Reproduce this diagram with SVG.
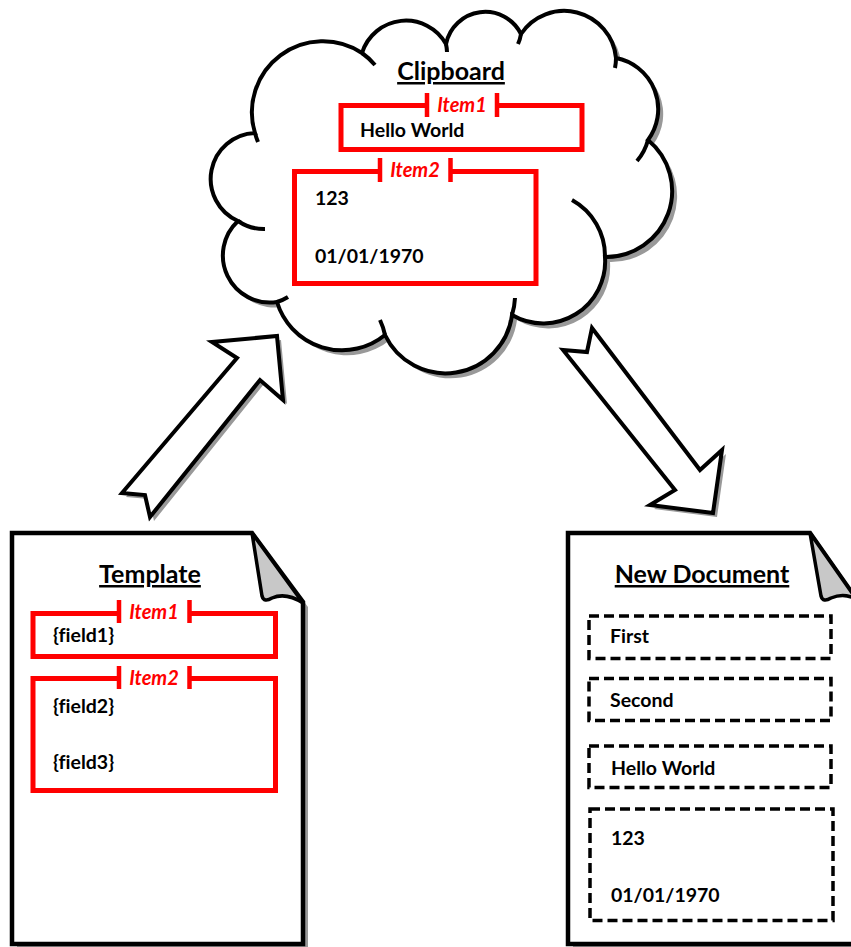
<svg xmlns="http://www.w3.org/2000/svg" width="851" height="947" viewBox="0 0 851 947">
<style>
text{font-family:Lato,"Open Sans","Liberation Sans",sans-serif;font-weight:bold;font-variant-ligatures:none;font-feature-settings:"liga" 0}
.title{font-size:25px;text-decoration:underline;fill:#000}
.body{font-size:19.5px;fill:#000}
.lbl{font-style:italic;font-size:20px;fill:#ff0000}
.shadow{fill:#999;stroke:none}
.outline{fill:#fff;stroke:#000;stroke-width:4.5;stroke-linejoin:miter}
.flap{fill:#c8c8c8;stroke:#000;stroke-width:3.5;stroke-linejoin:round}
.red{fill:none;stroke:#ff0000;stroke-width:5}
.tick{stroke:#ff0000;stroke-width:4.5}
.dash{fill:none;stroke:#000;stroke-width:3.5;stroke-dasharray:10 5}
.stub{fill:none;stroke:#000;stroke-width:4}
</style>
<defs>
<path id="cloudShape" d="M255,133 A71,71 0 0,1 362,53 A46,46 0 0,1 446,44 A40,40 0 0,1 521,34 A52,52 0 0,1 616,58 A52,52 0 0,1 648,140 A66,66 0 0,1 605,257 A62,62 0 0,1 512,315 A67,67 0 0,1 385,335 A68,68 0 0,1 277,302 A47,47 0 0,1 238,221 A46,46 0 0,1 255,133 Z"/>
</defs>

<g id="connectors">
  <polygon class="shadow" points="126,497 241,362 216,346 281,340 287,404 264,384 154,521 149,499"/>
  <polygon fill="#fff" stroke="#000" stroke-width="4" stroke-linejoin="miter" points="122,493 237,358 212,342 277,336 283,400 260,380 150,517 145,495"/>
  <polygon class="shadow" points="567,354 591,356 596,332 704,474 726,454 717,517 654,509 679,494"/>
  <polygon fill="#fff" stroke="#000" stroke-width="4" stroke-linejoin="miter" points="563,350 587,352 592,328 700,470 722,450 713,513 650,505 675,490"/>
</g>

<g id="clipboard">
  <use href="#cloudShape" class="shadow" transform="translate(5,5)"/>
  <use href="#cloudShape" fill="#fff" stroke="#000" stroke-width="4"/>
  <path class="stub" d="M362,53 A71,71 0 0,1 375,65"/>
  <path class="stub" d="M446,44 A46,46 0 0,1 447,52"/>
  <path class="stub" d="M521,34 A40,40 0 0,1 518,44"/>
  <path class="stub" d="M616,58 A52,52 0 0,1 615,68"/>
  <path class="stub" d="M648,140 A52,52 0 0,1 637,161"/>
  <path class="stub" d="M572,200 A64,64 0 0,1 605,257"/>
  <path class="stub" d="M515,298 A67,67 0 0,1 512,315"/>
  <path class="stub" d="M380,320 A68,68 0 0,1 385,335"/>
  <path class="stub" d="M288,297 A47,47 0 0,1 277,302"/>
  <path class="stub" d="M265,229 A46,46 0 0,1 238,221"/>
  <path class="stub" d="M258,142 A71,71 0 0,1 255,133"/>
  <text class="title" x="451" y="80" text-anchor="middle">Clipboard</text>
  <g id="clip-item1">
    <path class="red" d="M427,105.5 H341 V149.5 H582 V105.5 H497"/>
    <path class="tick" d="M427,93 V117 M497,93 V117"/>
    <text class="lbl" x="462" y="112" text-anchor="middle">Item1</text>
    <text class="body" x="360" y="137">Hello World</text>
  </g>
  <g id="clip-item2">
    <path class="red" d="M380,171.5 H294.5 V283.5 H536 V171.5 H450.5"/>
    <path class="tick" d="M380,158 V182 M450.5,158 V182"/>
    <text class="lbl" x="415" y="177" text-anchor="middle">Item2</text>
    <text class="body" x="315" y="205">123</text>
    <text class="body" x="315" y="263">01/01/1970</text>
  </g>
</g>

<g id="template">
  <path class="shadow" d="M17,538 L257,538 L308,607 L308,952 L17,952 Z"/>
  <path class="outline" d="M12,533 L252,533 L303,602 L303,944 L12,944 Z"/>
  <path class="flap" d="M252,533 L262,596 Q264,603 272,598 Q286,592 303,603 Z"/>
  <text class="title" x="150" y="583" text-anchor="middle">Template</text>
  <g id="tpl-item1">
    <path class="red" d="M119,613.5 H33 V656.5 H275.5 V613.5 H189.5"/>
    <path class="tick" d="M119,600 V623 M189.5,600 V623"/>
    <text class="lbl" x="154" y="619" text-anchor="middle">Item1</text>
    <text class="body" x="53" y="642">{field1}</text>
  </g>
  <g id="tpl-item2">
    <path class="red" d="M119,678.5 H33 V790.5 H275.5 V678.5 H189.5"/>
    <path class="tick" d="M119,666 V689 M189.5,666 V689"/>
    <text class="lbl" x="154" y="685" text-anchor="middle">Item2</text>
    <text class="body" x="53" y="713">{field2}</text>
    <text class="body" x="53" y="769">{field3}</text>
  </g>
</g>

<g id="new-document">
  <path class="shadow" d="M573,538 L815,538 L862,605 L862,952 L573,952 Z"/>
  <path class="outline" d="M568,533 L810,533 L857,600 L857,944 L568,944 Z"/>
  <path class="flap" d="M810,533 L821,596 Q823,603 831,598 Q845,592 857,600 Z"/>
  <text class="title" x="702" y="583" text-anchor="middle">New Document</text>
  <g id="nd-first">
    <rect class="dash" x="589" y="616" width="242" height="42.5"/>
    <text class="body" x="610" y="643">First</text>
  </g>
  <g id="nd-second">
    <rect class="dash" x="589" y="678.5" width="242" height="42"/>
    <text class="body" x="610" y="707">Second</text>
  </g>
  <g id="nd-hello">
    <rect class="dash" x="589" y="746" width="242" height="41.5"/>
    <text class="body" x="611" y="775">Hello World</text>
  </g>
  <g id="nd-item2">
    <rect class="dash" x="590" y="809" width="243" height="111.5"/>
    <text class="body" x="611" y="845">123</text>
    <text class="body" x="611" y="902">01/01/1970</text>
  </g>
</g>
</svg>
